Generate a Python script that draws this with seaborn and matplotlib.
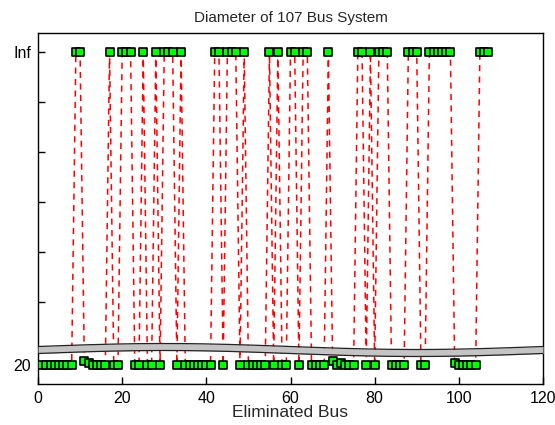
import numpy as np
import matplotlib
matplotlib.use("Agg")
import matplotlib.pyplot as plt
import seaborn as sns
import pandas as pd

sns.set_theme(style="white")
plt.rcParams['font.family'] = ['Liberation Sans', 'DejaVu Sans']

INF = np.inf
# Eliminated bus index and resulting network diameter (inf = disconnected)
bus = list(range(1, 108))
diameter = [
    20, 20, 20, 20, 20, 20, 20, 20, INF, INF,          # 1-10
    21, 20.5, 20, 20, 20, 20, INF, 20, 20, INF,        # 11-20
    INF, INF, 20, 20, INF, 20, 20, INF, 20, INF,       # 21-30
    INF, INF, 20, INF, 20, 20, 20, 20, 20, 20,         # 31-40
    20, INF, INF, 20, INF, INF, INF, 20, INF, 20,      # 41-50
    20, 20, 20, 20, INF, 20, INF, 20, 20, INF,         # 51-60
    INF, 20, INF, INF, 20, 20, 20, 20, INF, 21,        # 61-70
    20, 20.5, 20, 20, 20, INF, INF, 20, INF, 20,       # 71-80
    INF, INF, INF, 20, 20, 20, 20, INF, INF, INF,      # 81-90
    20, 20, INF, INF, INF, INF, INF, INF, 20.5, 20,    # 91-100
    20, 20, 20, 20, INF, INF, INF,                     # 101-107
]
x_ticks = [0, 20, 40, 60, 80, 100, 120]
y_tick_labels = ['20', '', '', '', '', '', 'Inf']

# broken-axis scale: finite values near the bottom, Inf at the top
BASE = 20.0
UNIT = 0.08
INF_LEVEL = 6.26


def to_axis(d):
    return INF_LEVEL if np.isinf(d) else (d - BASE) * UNIT


df = pd.DataFrame({'bus': bus, 'diameter': diameter})
df['y'] = df['diameter'].apply(to_axis)

fig = plt.figure(figsize=(5.55, 4.25), dpi=100)
ax = fig.add_axes([38 / 555, 41 / 425, 505 / 555, 351 / 425])

sns.lineplot(data=df, x='bus', y='y', ax=ax, sort=False, color='#ff0000',
             linewidth=1.1, zorder=2, estimator=None)
ax.lines[-1].set_dashes([4, 3.5])

# broken-axis band
xb = np.linspace(0, 120, 400)
center = 0.30 + 0.06 * np.sin(2 * np.pi * xb / 120)
half = 0.07
ax.fill_between(xb, center - half, center + half, color='#c4c4c4', lw=0, zorder=3)
ax.plot(xb, center + half, color='#222222', lw=0.9, zorder=3.5)
ax.plot(xb, center - half, color='#222222', lw=0.9, zorder=3.5)

sns.scatterplot(data=df, x='bus', y='y', ax=ax, marker='s', s=28,
                color='#00ff00', edgecolor='black', linewidth=1.2, zorder=4)

ax.set_xlim(0, 120)
ax.set_ylim(-0.38, 6.64)
ax.set_xticks(x_ticks)
ax.set_yticks([0, 1.26, 2.26, 3.26, 4.26, 5.26, 6.26])
ax.set_yticklabels(y_tick_labels)
ax.tick_params(axis='both', direction='in', length=5, width=1, labelsize=11.5,
               colors='black', pad=5)
ax.tick_params(axis='x', top=False, bottom=True)
ax.tick_params(axis='y', left=True, right=False)
for s in ax.spines.values():
    s.set_color('black')
    s.set_linewidth(1.0)

ax.set_xlabel('Eliminated Bus', fontsize=12.5, labelpad=-1)
ax.set_ylabel('')
ax.set_title('Diameter of 107 Bus System', fontsize=11, pad=8)

fig.savefig('out.png', dpi=100)
